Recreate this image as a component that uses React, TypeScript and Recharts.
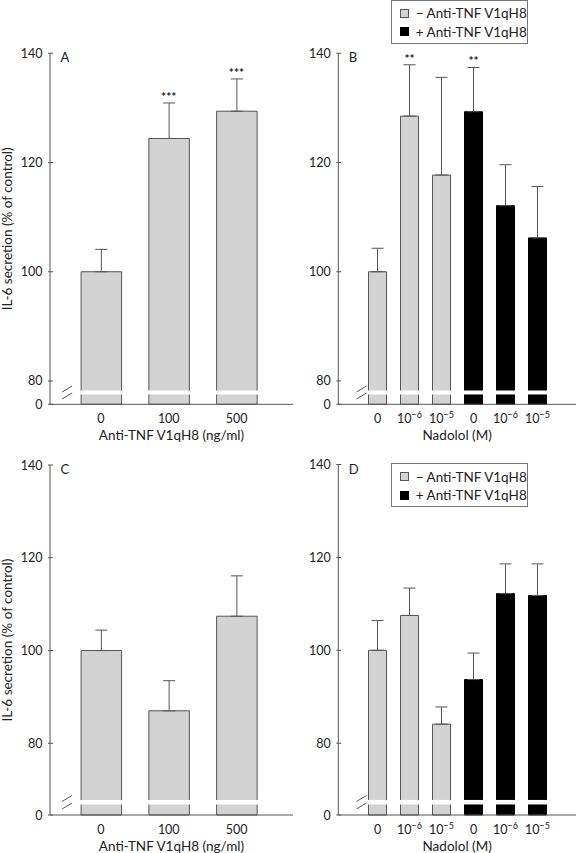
import React from "react";
import {
  ComposedChart,
  Bar,
  Cell,
  ErrorBar,
  Line,
  LabelList,
  XAxis,
  YAxis,
  ReferenceArea,
  Legend,
  Label,
} from "recharts";

// values (% of control, mean and upper SEM)
const doseBase = ["0", "100", "500"];
const doseExp = ["", "", ""];
const doseGroup = ["minus", "minus", "minus"];
const nadololBase = ["0", "10", "10", "0", "10", "10"];
const nadololExp = ["", "−6", "−5", "", "−6", "−5"];
const nadololGroup = ["minus", "minus", "minus", "plus", "plus", "plus"];
const yTicks = [80, 100, 120, 140];

const meansA = [100, 124.4, 129.4];
const errsA = [4.1, 6.5, 5.9];
const sigA = ["", "***", "***"];

const meansB = [100, 128.5, 117.7, 129.3, 112.1, 106.2];
const errsB = [4.3, 9.4, 17.9, 8.1, 7.5, 9.4];
const sigB = ["", "**", "", "**", "", ""];

const meansC = [100, 87.0, 107.4];
const errsC = [4.4, 6.5, 8.7];
const sigC = ["", "", ""];

const meansD = [100, 107.5, 84.1, 93.7, 112.2, 111.8];
const errsD = [6.4, 5.9, 3.7, 5.7, 6.4, 6.8];
const sigD = ["", "", "", "", "", ""];

const legendLabels = ["− Anti-TNF V1qH8", "+ Anti-TNF V1qH8"];
const legendGroups = ["minus", "plus"];

const FONT = "Lato, 'Open Sans', sans-serif";
const INK = "#222";
const AXIS = "#555";
const FILL: Record<string, string> = { minus: "#d3d3d3", plus: "#000" };
const EDGE: Record<string, string> = { minus: "#555", plus: "#000" };

// axis break (the "0" sits below a squeezed gap)
const BREAK_TOP = { floor: 75.73, band: [77.53, 78.26] as [number, number] };
const BREAK_BOTTOM = { floor: 64.54, band: [66.81, 67.78] as [number, number] };

const YTick = ({ x, y, payload, floor }: any) => (
  <g>
    <line x1={x} x2={x + 5} y1={y} y2={y} stroke={AXIS} strokeWidth={1} />
    <text x={x - 5.5} y={y + 4.5} textAnchor="end" fill={INK} fontSize={12.5} fontFamily={FONT}>
      {payload.value === floor ? "0" : payload.value}
    </text>
  </g>
);

const XTick = ({ x, y, index, base, exp }: any) => (
  <text x={x} y={y + 17} textAnchor="middle" fill={INK} fontSize={12.5} fontFamily={FONT}>
    {base[index]}
    {exp[index] ? (
      <tspan dy={-5} fontSize={9}>
        {exp[index]}
      </tspan>
    ) : null}
  </text>
);

const renderBreak = (p: any) => {
  const { x, y, width, height } = p;
  return (
    <g>
      <rect x={x - 1.5} y={y} width={width + 1.5} height={height} fill="#fff" />
      <line x1={x - 5} y1={y + 1.5} x2={x + 5} y2={y - 4.5} stroke={AXIS} strokeWidth={1} />
      <line x1={x - 5} y1={y + height + 4.5} x2={x + 5} y2={y + height - 1.5} stroke={AXIS} strokeWidth={1} />
    </g>
  );
};

const LegendBox = () => (
  <div
    style={{
      border: "1px solid #777",
      boxSizing: "border-box",
      width: 137,
      height: 44,
      padding: "3px 0 0 8px",
      fontFamily: FONT,
      fontSize: 13.5,
      color: INK,
      background: "#fff",
    }}
  >
    {legendLabels.map((t, i) => (
      <div key={t} style={{ display: "flex", alignItems: "center", height: 18.5 }}>
        <span
          style={{
            display: "inline-block",
            flex: "0 0 9px",
            width: 9,
            height: 9,
            boxSizing: "border-box",
            background: FILL[legendGroups[i]],
            border: `1px solid ${EDGE[legendGroups[i]]}`,
            marginRight: 7,
          }}
        />
        <span style={{ whiteSpace: "nowrap" }}>{t}</span>
      </div>
    ))}
  </div>
);

type PanelProps = {
  left: number;
  top: number;
  width: number;
  height: number;
  marginTop: number;
  marginBottom: number;
  yAxisWidth: number;
  brk: { floor: number; band: [number, number] };
  letter: string;
  yTitle?: string;
  xTitle: string;
  base: string[];
  exp: string[];
  group: string[];
  means: number[];
  errs: number[];
  sig: string[];
  barSize: number;
  padL: number;
  padR: number;
  legendTop?: number;
  legendLeft?: number;
};

function Panel(p: PanelProps) {
  const rows = p.means.map((m, i) => ({
    key: `c${i}`,
    mean: m,
    err: [0, p.errs[i]],
    top: m + p.errs[i],
    sig: p.sig[i],
  }));

  return (
    <div style={{ position: "absolute", left: p.left, top: p.top, width: p.width, height: p.height }}>
      <ComposedChart
        width={p.width}
        height={p.height}
        data={rows}
        margin={{ top: p.marginTop, right: 0, bottom: p.marginBottom, left: 0 }}
      >
        <XAxis
          dataKey="key"
          height={36}
          interval={0}
          padding={{ left: p.padL, right: p.padR }}
          axisLine={{ stroke: AXIS, strokeWidth: 1 }}
          tickLine={false}
          tickSize={0}
          tick={(t: any) => <XTick {...t} base={p.base} exp={p.exp} />}
        >
          <Label
            content={(l: any) => {
              const vb = l.viewBox;
              return (
                <text
                  x={vb.x + vb.width / 2}
                  y={vb.y + 35.5}
                  textAnchor="middle"
                  fill={INK}
                  fontSize={13.5}
                  fontFamily={FONT}
                >
                  {p.xTitle}
                </text>
              );
            }}
          />
        </XAxis>
        <YAxis
          type="number"
          domain={[p.brk.floor, 140]}
          ticks={[p.brk.floor, ...yTicks]}
          interval={0}
          width={p.yAxisWidth}
          axisLine={{ stroke: AXIS, strokeWidth: 1 }}
          tickLine={false}
          tickSize={0}
          tick={(t: any) => <YTick {...t} floor={p.brk.floor} />}
        >
          <Label
            content={(l: any) => {
              const vb = l.viewBox;
              const ax = vb.x + vb.width;
              return (
                <g>
                  <text x={ax + 10.5} y={vb.y + 9} fill={INK} fontSize={13} fontFamily={FONT}>
                    {p.letter}
                  </text>
                  {p.yTitle ? (
                    <text
                      transform={`translate(${7 + 4.6}, ${vb.y + vb.height / 2}) rotate(-90)`}
                      textAnchor="middle"
                      fill={INK}
                      fontSize={13.5}
                      fontFamily={FONT}
                    >
                      {p.yTitle}
                    </text>
                  ) : null}
                </g>
              );
            }}
          />
        </YAxis>
        <Bar dataKey="mean" barSize={p.barSize} isAnimationActive={false}>
          {rows.map((r, i) => (
            <Cell key={r.key} fill={FILL[p.group[i]]} stroke={EDGE[p.group[i]]} strokeWidth={1} />
          ))}
          <ErrorBar dataKey="err" direction="y" width={6} stroke={AXIS} strokeWidth={1} />
        </Bar>
        <Line
          dataKey="top"
          stroke="none"
          dot={false}
          activeDot={false}
          isAnimationActive={false}
          legendType="none"
        >
          <LabelList dataKey="sig" position="top" offset={2} fill={INK} fontSize={12} fontWeight="bold" fontFamily={FONT} />
        </Line>
        <ReferenceArea
          y1={p.brk.band[0]}
          y2={p.brk.band[1]}
          shape={renderBreak}
          ifOverflow="visible"
          zIndex={600}
        />
        {p.legendTop !== undefined ? (
          <Legend
            layout="horizontal"
            verticalAlign="middle"
            align="center"
            content={() => <LegendBox />}
            wrapperStyle={{ left: p.legendLeft, top: p.legendTop, width: 137, height: 44 }}
          />
        ) : null}
      </ComposedChart>
    </div>
  );
}

export default function App() {
  return (
    <div style={{ position: "absolute", left: 0, top: 0, width: 576, height: 853, background: "#fff" }}>
      <Panel
        left={0}
        top={0}
        width={293}
        height={445}
        marginTop={53.3}
        marginBottom={4.7}
        yAxisWidth={50}
        brk={BREAK_TOP}
        letter="A"
        yTitle="IL-6 secretion (% of control)"
        xTitle="Anti-TNF V1qH8 (ng/ml)"
        base={doseBase}
        exp={doseExp}
        group={doseGroup}
        means={meansA}
        errs={errsA}
        sig={sigA}
        barSize={40.5}
        padL={17.1}
        padR={22.6}
      />
      <Panel
        left={293}
        top={0}
        width={283}
        height={445}
        marginTop={53.3}
        marginBottom={4.7}
        yAxisWidth={45.3}
        brk={BREAK_TOP}
        letter="B"
        xTitle="Nadolol (M)"
        base={nadololBase}
        exp={nadololExp}
        group={nadololGroup}
        means={meansB}
        errs={errsB}
        sig={sigB}
        barSize={18}
        padL={23.2}
        padR={22.5}
        legendLeft={97.7}
        legendTop={0}
      />
      <Panel
        left={0}
        top={420}
        width={293}
        height={433}
        marginTop={45}
        marginBottom={2}
        yAxisWidth={50}
        brk={BREAK_BOTTOM}
        letter="C"
        yTitle="IL-6 secretion (% of control)"
        xTitle="Anti-TNF V1qH8 (ng/ml)"
        base={doseBase}
        exp={doseExp}
        group={doseGroup}
        means={meansC}
        errs={errsC}
        sig={sigC}
        barSize={40.5}
        padL={17.1}
        padR={22.6}
      />
      <Panel
        left={293}
        top={420}
        width={283}
        height={433}
        marginTop={44.5}
        marginBottom={2}
        yAxisWidth={45.3}
        brk={BREAK_BOTTOM}
        letter="D"
        xTitle="Nadolol (M)"
        base={nadololBase}
        exp={nadololExp}
        group={nadololGroup}
        means={meansD}
        errs={errsD}
        sig={sigD}
        barSize={18}
        padL={23.2}
        padR={22.5}
        legendLeft={97.7}
        legendTop={43.3}
      />
    </div>
  );
}
